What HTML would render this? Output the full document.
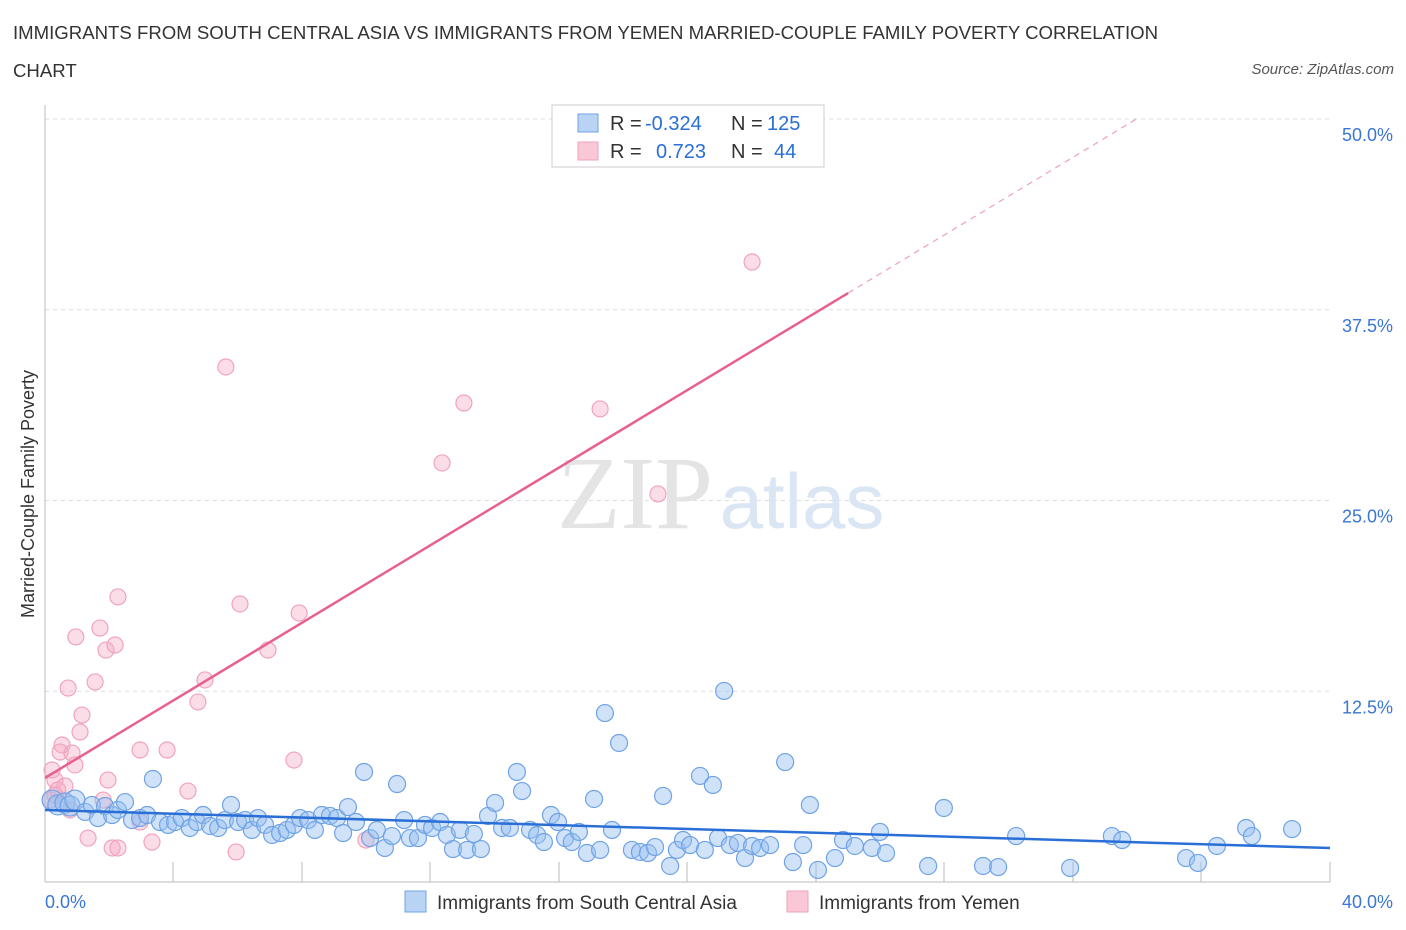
<!DOCTYPE html>
<html><head><meta charset="utf-8"><style>
body{margin:0;background:#fff;font-family:"Liberation Sans",sans-serif}
#wrap{position:relative;width:1406px;height:930px;overflow:hidden}
.t{position:absolute}
</style></head><body>
<div id="wrap">
<div class="t" style="left:13px;top:14px;font-size:18.6px;color:#333;line-height:38px;width:1170px">IMMIGRANTS FROM SOUTH CENTRAL ASIA VS IMMIGRANTS FROM YEMEN MARRIED-COUPLE FAMILY POVERTY CORRELATION CHART</div>
<div class="t" style="right:12px;top:61px;font-size:15px;color:#555;font-style:italic">Source: ZipAtlas.com</div>
<svg id="svg" width="1406" height="930" style="position:absolute;left:0;top:0"></svg>
</div>
<script>
const blueX=[.22,.40,.62,.78,.93,1.25,1.46,1.65,1.87,2.09,2.27,2.49,2.71,2.96,3.18,3.36,3.58,3.83,4.05,4.26,4.51,4.73,4.92,5.14,5.39,5.60,5.79,6.01,6.23,6.44,6.63,6.85,7.07,7.32,7.53,7.75,7.94,8.19,8.40,8.62,8.87,9.09,9.28,9.43,9.68,9.93,10.12,10.33,10.58,10.80,10.96,11.18,11.36,11.61,11.83,12.05,12.30,12.51,12.70,12.92,13.14,13.35,13.57,13.79,14.01,14.23,14.47,14.69,14.85,15.10,15.32,15.53,15.75,15.97,16.19,16.40,16.62,16.87,17.09,17.28,17.43,17.65,17.87,18.27,18.52,18.77,18.99,19.24,19.46,19.67,19.86,20.08,20.39,20.54,20.79,20.95,21.14,21.32,21.57,21.79,22.01,22.26,22.57,23.04,23.28,23.60,23.81,24.06,24.59,24.84,25.21,25.74,25.99,26.18,27.49,27.98,29.20,29.67,30.23,31.91,33.21,33.53,35.52,35.89,36.48,37.39,37.57,38.82];
const blueY=[5.37,5.05,5.18,4.98,5.37,4.59,5.05,4.19,4.98,4.39,4.72,5.24,4.06,4.19,4.39,6.75,3.93,3.74,3.93,4.19,3.54,3.93,4.39,3.67,3.54,4.06,5.05,3.93,4.06,3.41,4.19,3.74,3.08,3.21,3.41,3.74,4.19,4.06,3.41,4.39,4.33,4.19,3.21,4.91,3.93,7.21,2.88,3.41,2.23,3.01,6.42,4.06,2.88,2.88,3.74,3.54,3.93,3.08,2.16,3.41,2.10,3.15,2.16,4.33,5.18,3.54,3.54,7.21,5.96,3.41,3.08,2.62,4.39,3.93,2.88,2.62,3.28,1.90,5.44,2.10,11.07,3.41,9.11,2.10,1.97,1.90,2.29,5.64,1.05,2.10,2.75,2.42,6.95,2.10,6.36,2.88,12.52,2.42,2.56,1.57,2.36,2.23,2.42,7.86,1.31,2.42,5.05,0.79,1.57,2.75,2.36,2.23,3.28,1.90,1.05,4.85,1.05,0.98,3.01,0.92,3.01,2.75,1.57,1.25,2.36,3.54,3.01,3.47];
const pinkX=[.22,.31,.40,.47,.53,.62,.72,.84,.93,.96,1.09,1.15,1.34,1.56,1.71,1.81,1.90,1.96,2.09,2.18,2.27,2.27,2.96,2.96,3.33,3.80,4.45,4.76,4.98,5.63,5.95,6.07,6.94,7.75,7.91,9.99,12.36,13.04,17.28,19.08,22.01,.16,.31,.78];
const pinkY=[7.34,6.68,6.03,8.52,8.98,6.29,12.71,8.45,7.67,16.06,9.83,10.94,2.88,13.11,16.64,5.37,15.20,6.68,2.23,15.53,2.23,18.68,8.65,3.93,2.62,8.65,5.96,11.80,13.24,33.75,1.97,18.22,15.20,7.99,17.63,2.75,27.46,31.39,31.00,25.43,40.63,5.37,5.70,4.72];
const yTicks=[12.5,25,37.5,50];
const blueTrend=[4.72,2.23];
const pinkTrend=[6.82,1.271];
const X=v=>45+v*32.125, Y=v=>882-v*15.26;
const NS="http://www.w3.org/2000/svg", svg=document.getElementById('svg');
function mk(t,a){const e=document.createElementNS(NS,t);for(const k in a)e.setAttribute(k,a[k]);svg.appendChild(e);return e;}
let e;
yTicks.forEach(v=>{
 e=mk('line',{x1:45,x2:1330,y1:Y(v),y2:Y(v),stroke:'#ddd','stroke-dasharray':'4,4'});
 
 
 e=mk('text',{x:1393,y:Y(v)+22,'text-anchor':'end','font-size':18,fill:'#3a76d6'});e.textContent=v.toFixed(1)+'%';
 
 
});
e=mk('line',{x1:45,x2:45,y1:105,y2:882,stroke:'#bbb'});


e=mk('line',{x1:45,x2:1330,y1:882,y2:882,stroke:'#bbb'});


[173,302,430,559,687,816,944,1073,1201,1330].forEach(px=>{e=mk('line',{x1:px,x2:px,y1:862,y2:882,stroke:'#bbb'});
 
 });
e=mk('text',{x:45,y:908,'font-size':18,fill:'#3a76d6'});e.textContent='0.0%';


e=mk('text',{x:1393,y:908,'text-anchor':'end','font-size':18,fill:'#3a76d6'});e.textContent='40.0%';


e=mk('text',{x:34,y:494,'text-anchor':'middle','font-size':18,fill:'#333',transform:'rotate(-90 34 494)'});e.textContent='Married-Couple Family Poverty';


e=mk('text',{x:635,y:528,'text-anchor':'middle','font-size':104,fill:'#e4e4e4','font-family':'Liberation Serif'});e.textContent='ZIP';


e=mk('text',{x:802,y:528,'text-anchor':'middle','font-size':78,fill:'#dbe6f4'});e.textContent='atlas';


pinkX.forEach((x,i)=>{e=mk('circle',{cx:X(x),cy:Y(pinkY[i]),r:8,fill:'rgba(245,170,195,0.4)',stroke:'#f0a3be','stroke-width':1.2});
 
 });
blueX.forEach((x,i)=>{e=mk('circle',{cx:X(x),cy:Y(blueY[i]),r:x<1?10:8.5,fill:'rgba(150,190,240,0.45)',stroke:'#6fa3e6','stroke-width':1.2});
 
 });
e=mk('line',{x1:X(0),y1:Y(blueTrend[0]),x2:X(40),y2:Y(blueTrend[1]),stroke:'#2a6fd6','stroke-width':2.5});


e=mk('line',{x1:X(0),y1:Y(pinkTrend[0]),x2:X(25),y2:Y(pinkTrend[0]+25*pinkTrend[1]),stroke:'#e8608f','stroke-width':2.5});


e=mk('line',{x1:X(25),y1:Y(pinkTrend[0]+25*pinkTrend[1]),x2:X(34),y2:Y(pinkTrend[0]+34*pinkTrend[1]),stroke:'#f0a0bb','stroke-width':1.2,'stroke-dasharray':'6,5'});


e=mk('rect',{x:552,y:105,width:272,height:62,fill:'#fff',stroke:'#ccc'});


[[0,'#b9d3f5','#6fa3e6','-0.324','125',645,767],[1,'#f9c7d6','#f0a3be','0.723','44',656,774]].forEach(r=>{
 const y=123+r[0]*28;
 e=mk('rect',{x:578,y:y-9,width:20,height:18,fill:r[1],stroke:r[2]});
 
 
 [[610,'R =','#333'],[r[5],r[3],'#2a6fd6'],[731,'N =','#333'],[r[6],r[4],'#2a6fd6']].forEach(s=>{
  e=mk('text',{x:s[0],y:y+7,'font-size':20,fill:s[2]});e.textContent=s[1];
  
  
 });
});
[[405,'#b9d3f5','#6fa3e6','Immigrants from South Central Asia'],[787,'#f9c7d6','#f0a3be','Immigrants from Yemen']].forEach(r=>{
 e=mk('rect',{x:r[0],y:891,width:21,height:21,fill:r[1],stroke:r[2]});
 
 
 e=mk('text',{x:r[0]+32,y:909,'font-size':19,fill:'#333'});e.textContent=r[3];
 
 
});
</script>
</body></html>
